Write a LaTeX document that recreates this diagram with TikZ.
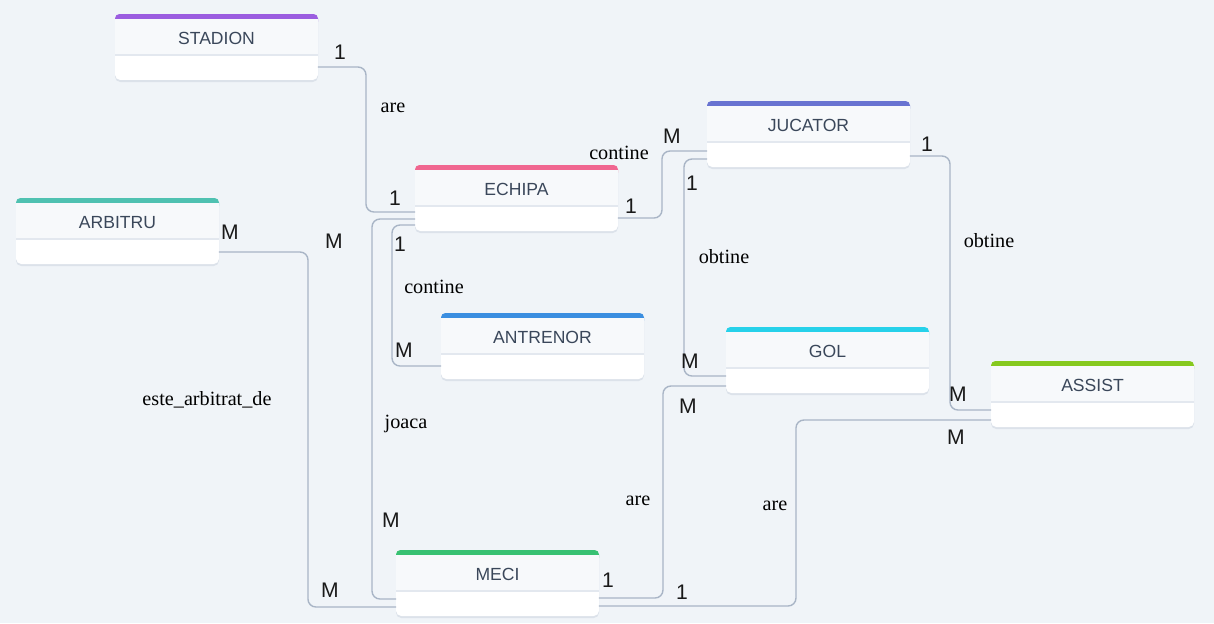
\documentclass[tikz,border=0pt]{standalone}
\usepackage{fontspec}
\setmainfont{Liberation Serif}
\newfontfamily\cardfont{Liberation Sans}
\usetikzlibrary{calc}

\definecolor{canvas}{HTML}{F0F4F8}
\definecolor{headgray}{HTML}{F7F9FB}
\definecolor{linegray}{HTML}{A9B5C6}
\definecolor{divgray}{HTML}{E3E8EF}
\definecolor{titlegray}{HTML}{3A475A}
\definecolor{shadowgray}{HTML}{DCE2EA}
\definecolor{cStadion}{HTML}{9B5DE0}
\definecolor{cEchipa}{HTML}{F06690}
\definecolor{cArbitru}{HTML}{4FC1B1}
\definecolor{cJucator}{HTML}{6873D1}
\definecolor{cAntrenor}{HTML}{3A8EE0}
\definecolor{cGol}{HTML}{26D1EA}
\definecolor{cAssist}{HTML}{86C91E}
\definecolor{cMeci}{HTML}{38C172}

% entity box: name, colour, left x, top y, title (pixel units)
\newcommand{\ENT}[5]{%
	\fill[shadowgray, rounded corners=3pt] (#3,#4+2) rectangle (#3+203,#4+68);
	\node[entitybox] (#1) at (#3+101.5,#4+33) {};
	\fill[#2, rounded corners=2.5pt] (#3,#4) rectangle (#3+203,#4+12);
	\fill[headgray] (#3,#4+5) rectangle (#3+203,#4+41);
	\draw[divgray, line width=0.8pt] (#3,#4+41) -- (#3+203,#4+41);
	\node[entitytitle] (#1-t) at (#3+101.5,#4+24.5) {#5};
}

\begin{document}
\begin{tikzpicture}[
	x=0.02cm, y=-0.02cm,
	entitybox/.style={rectangle, fill=white, rounded corners=3pt,
		minimum width=4.06cm, minimum height=1.32cm, inner sep=0pt, outer sep=0pt},
	entitytitle/.style={font=\cardfont\fontsize{10}{12}\selectfont, text=titlegray, inner sep=1pt},
	rel/.style={draw=linegray, line width=0.8pt, rounded corners=4.5pt},
	card/.style={font=\cardfont\fontsize{12}{14}\selectfont, text=black!90, inner sep=1pt},
	rellabel/.style={font=\fontsize{11.5}{13}\selectfont, text=black, inner sep=1pt}
	]
	
	% Canvas
	\fill[canvas] (0,0) rectangle (1214,623);
	\useasboundingbox (0,0) rectangle (1214,623);
	
	% Top row
	\ENT{stadion}{cStadion}{115}{14}{STADION}
	\ENT{jucator}{cJucator}{707}{101}{JUCATOR}
	
	% Middle rows
	\ENT{echipa}{cEchipa}{415}{165}{ECHIPA}
	\ENT{arbitru}{cArbitru}{16}{198}{ARBITRU}
	\ENT{antrenor}{cAntrenor}{441}{313}{ANTRENOR}
	\ENT{gol}{cGol}{726}{327}{GOL}
	\ENT{assist}{cAssist}{991}{361}{ASSIST}
	
	% Bottom row
	\ENT{meci}{cMeci}{396}{550}{MECI}
	
	% Connectors
	\draw[rel] ($(stadion.east)+(0,20)$) -- ++(48,0) |- ($(echipa.west)+(0,14)$);
	\draw[rel] ($(echipa.east)+(0,20)$) -- ++(44,0) |- ($(jucator.west)+(0,17)$);
	\draw[rel] ($(echipa.west)+(0,27)$) -- ++(-23,0) |- ($(antrenor.west)+(0,20)$);
	\draw[rel] ($(echipa.west)+(0,21)$) -- ++(-43,0) |- ($(meci.west)+(0,16)$);
	\draw[rel] ($(arbitru.east)+(0,21)$) -- ++(89,0) |- ($(meci.west)+(0,24)$);
	\draw[rel] ($(jucator.west)+(0,25)$) -- ++(-23,0) |- ($(gol.west)+(0,16)$);
	\draw[rel] ($(jucator.east)+(0,22)$) -- ++(40,0) |- ($(assist.west)+(0,16)$);
	\draw[rel] ($(meci.east)+(0,15)$) -- ++(64,0) |- ($(gol.west)+(0,26)$);
	\draw[rel] ($(meci.east)+(0,23)$) -- ++(197,0) |- ($(assist.west)+(0,26)$);
	
	% Relationship names
	\node[rellabel] (are1) at (393,108) {are};
	\node[rellabel] (contine1) at (619,153) {contine};
	\node[rellabel] (contine2) at (434,287) {contine};
	\node[rellabel] (joaca) at (406,424) {joaca};
	\node[rellabel] (arbitrat) at (207,400) {este\_arbitrat\_de};
	\node[rellabel] (obtine1) at (724,257) {obtine};
	\node[rellabel] (obtine2) at (989,241) {obtine};
	\node[rellabel] (are2) at (638,501) {are};
	\node[rellabel] (are3) at (775,506) {are};
	
	% Cardinalities
	\node[card] (k1) at (340,52) {1};
	\node[card] (k2) at (395,198) {1};
	\node[card] (k3) at (631,206) {1};
	\node[card] (k4) at (672,136) {M};
	\node[card] (k5) at (400,244) {1};
	\node[card] (k6) at (404,350) {M};
	\node[card] (k7) at (334,241) {M};
	\node[card] (k8) at (391,520) {M};
	\node[card] (k9) at (230,232) {M};
	\node[card] (k10) at (330,590) {M};
	\node[card] (k11) at (692,183) {1};
	\node[card] (k12) at (690,361) {M};
	\node[card] (k13) at (927,144) {1};
	\node[card] (k14) at (958,394) {M};
	\node[card] (k15) at (608,580) {1};
	\node[card] (k16) at (688,406) {M};
	\node[card] (k17) at (682,592) {1};
	\node[card] (k18) at (956,437) {M};
	
\end{tikzpicture}
\end{document}
